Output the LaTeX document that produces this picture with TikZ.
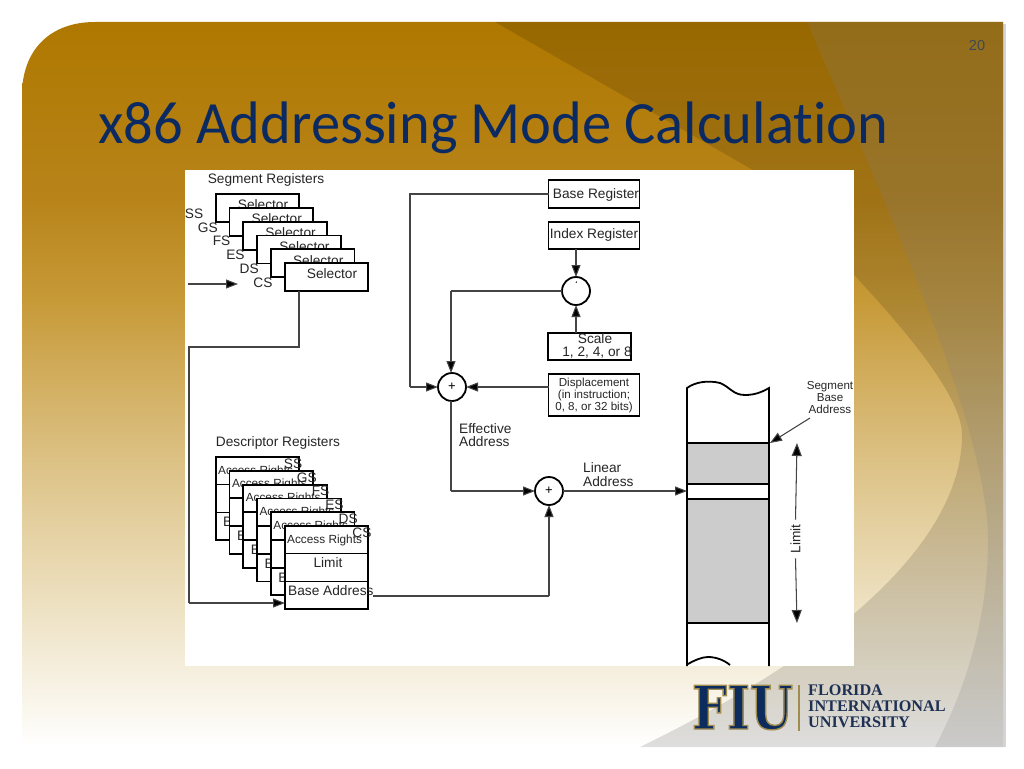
\documentclass[tikz,border=0pt]{standalone}
\usepackage{fontspec}
\setmainfont{Liberation Sans}
\newfontfamily\titlefont[Ligatures={NoCommon,NoRequired,NoContextual},FakeStretch=0.975]{Carlito}
\newfontfamily\logofont{Liberation Serif}
\newfontfamily\fiufont[FakeStretch=0.82]{DejaVu Serif}
\usetikzlibrary{arrows.meta}
\definecolor{bgA}{HTML}{AF7800}
\definecolor{bgB}{HTML}{B8841A}
\definecolor{bgC}{HTML}{C79A38}
\definecolor{bgD}{HTML}{DBBF80}
\definecolor{bgE}{HTML}{EDE0C0}
\definecolor{bgF}{HTML}{F9F5EA}
\definecolor{bgG}{HTML}{FFFFFF}
\definecolor{titleblue}{HTML}{0B2A62}
\definecolor{fiublue}{HTML}{0C2C5E}
\definecolor{fiugold}{HTML}{A08C50}
\definecolor{logotext}{HTML}{1E3154}
\definecolor{numcol}{HTML}{3F4A50}
\definecolor{wirecol}{HTML}{444444}
\pgfdeclareverticalshading{slidebg}{100bp}{
  color(0bp)=(bgG); color(25bp)=(bgG); color(28.2bp)=(bgF); color(35.1bp)=(bgE);
  color(45.5bp)=(bgD); color(55.8bp)=(bgC); color(62.7bp)=(bgB); color(75bp)=(bgA); color(100bp)=(bgA)}
\tikzset{
  x=1pt,y=-1pt,
  reg/.style={draw=black,fill=white,line width=1.8pt,minimum width=#1,inner sep=0pt,outer sep=0pt},
  lab/.style={font=\fontsize{13.7}{15}\selectfont,inner sep=0pt,text=black!85,yshift=-1.5pt},
  small/.style={font=\fontsize{11.6}{12}\selectfont,inner sep=0pt,align=center,text=black!85,yshift=-1pt},
  wire/.style={draw=wirecol,line width=1.05pt},
  arrow/.style={wire,-{Triangle[length=12pt,width=9pt,fill=black]}},
  sumnode/.style={circle,draw=black,fill=white,line width=1.8pt,minimum size=28pt,inner sep=0pt,outer sep=0pt,font=\fontsize{13}{15}\selectfont},
  col/.style={draw=black,line width=1.8pt},
}
\begin{document}
\begin{tikzpicture}
\useasboundingbox (0,0) rectangle (1024,768);
% slide background
\fill[black!17] (1003,24) rectangle (1006,747);
\begin{scope}
\clip (22,747) -- (22,95) .. controls (22,50) and (50,22) .. (95,22) -- (1003,22) -- (1003,747) -- cycle;
\shade[shading=slidebg] (22,22) rectangle (1003,747);
\fill[black,opacity=.13] (495,22) -- (753,170) .. controls (850,270) and (962,380) .. (962,435)
   .. controls (962,520) and (880,630) .. (640,747) -- (1003,747) -- (1003,22) -- cycle;
\fill[gray,opacity=.2] (807,22) .. controls (870,170) and (988,420) .. (988,540)
   .. controls (988,620) and (965,690) .. (935,747) -- (1003,747) -- (1003,22) -- cycle;
\end{scope}
\node[font=\fontsize{14.5}{16}\selectfont,text=numcol,inner sep=0pt] (pagenum) at (977,46) {20};
\node[font=\titlefont\fontsize{60}{70}\selectfont,text=titleblue,anchor=base west,inner sep=0pt] (title) at (98,143) {x86 Addressing Mode Calculation};
% white panel
\fill[white] (185,170) rectangle (854,666);
% segment registers
\node[lab] (segtitle) at (266,178) {Segment Registers};
\foreach \i/\n in {0/SS,1/GS,2/FS,3/ES,4/DS,5/CS}{
  \node[reg=83.5pt,minimum height=28pt] (seg\n) at ({257.5+13.8*\i},{208+13.8*\i}) {};
  \node[lab] (seltext\n) at ({263+13.8*\i},{203.5+13.8*\i}) {Selector};
  \node[lab] (seglabel\n) at ({194+13.8*\i},{212+13.8*\i}) {\n};
}
\coordinate (segin) at (188,284);
\coordinate (segend) at (238,284);
\draw[arrow] (segin) -- (segend);
% descriptor registers
\node[lab] (desctitle) at (278,441.5) {Descriptor Registers};
\foreach \i/\n in {0/SS,1/GS,2/FS,3/ES,4/DS,5/CS}{
  \node[reg=83.5pt,minimum height=83pt] (desc\n) at ({257.5+13.8*\i},{498.5+13.8*\i}) {};
  \draw[line width=1.8pt] ({216+13.8*\i},{484.5+13.8*\i}) -- ({299+13.8*\i},{484.5+13.8*\i});
  \draw[line width=1.8pt] ({216+13.8*\i},{512.5+13.8*\i}) -- ({299+13.8*\i},{512.5+13.8*\i});
  \node[lab,font=\fontsize{11.8}{14}\selectfont,anchor=west] (acc\n) at ({218+13.8*\i},{469.5+13.8*\i}) {Access Rights};
  \node[lab,anchor=west] (base\n) at ({\ifnum\i<5 223\else 219\fi+13.8*\i},{520.5+13.8*\i}) {Base Address};
  \node[lab] (dl\n) at ({293+13.8*\i},{462+13.8*\i}) {\n};
}
\node[lab] (limtext) at (328,561.5) {Limit};
\coordinate (c1) at (299,347);
\coordinate (c2) at (189,347);
\coordinate (c3) at (189,603);
\coordinate (c4) at (285,603);
\draw[wire] (segCS.south -| c1) -- (c1) -- (c2) -- (c3);
\draw[arrow] (c3) -- (c4);
% address registers
\node[reg=91pt,minimum height=28pt] (basereg) at (594,194) {};
\node[lab] (basetext) at (596,193) {Base Register};
\node[reg=91pt,minimum height=27pt] (indexreg) at (594,235.5) {};
\node[lab] (indextext) at (594,233.5) {Index Register};
\node[sumnode] (mul) at (576,291) {};
\draw[line width=.8pt] (576.5,281.5) -- (576,283);
\node[reg=83pt,minimum height=27pt] (scale) at (589.5,346.5) {};
\node[lab] (scaletext) at (595,337) {Scale};
\node[lab] (scalenums) at (597,351.5) {1, 2, 4, or 8};
\node[reg=91pt,minimum height=42pt] (disp) at (594,395) {};
\node[small] (disptext) at (594,394) {Displacement\\(in instruction;\\0, 8, or 32 bits)};
\node[sumnode] (add) at (452,387) {+};
\node[sumnode] (lin) at (549,491) {+};
\coordinate (b1) at (410,194);
\coordinate (b2) at (410,387);
\coordinate (m1) at (451,291);
\coordinate (e1) at (451,491);
\coordinate (f1) at (549,596);
\draw[arrow] (indexreg.south -| mul) -- (mul.north);
\draw[arrow] (scale.north -| mul) -- (mul.south);
\draw[wire] (basereg.west) -- (b1) -- (b2);
\draw[arrow] (b2) -- (add.west);
\draw[wire] (mul.west) -- (m1);
\draw[arrow] (m1) -- (add.north -| m1);
\draw[arrow] (disp.west |- add) -- (add.east);
\draw[wire] (add.south -| e1) -- (e1);
\draw[arrow] (e1) -- (lin.west);
\coordinate (f0) at (373,596);
\draw[wire] (f0) -- (f1);
\draw[arrow] (f1) -- (lin.south);
\node[lab,anchor=west] (eff1) at (459,427) {Effective};
\node[lab,anchor=west] (eff2) at (459,440.5) {Address};
\node[lab,anchor=west] (lin1) at (583,466) {Linear};
\node[lab,anchor=west] (lin2) at (583,480) {Address};
% memory column
\fill[black!20] (687,443) rectangle (769,623);
\fill[white] (687,484) rectangle (769,499);
\draw[col] (687,666) -- (687,388) .. controls (695,382) and (708,380) .. (720,383)
  .. controls (730,387) and (733,395) .. (745,395) .. controls (755,395) and (762,392) .. (769,388) -- (769,666);
\draw[col] (687,443) -- (769,443);
\draw[col] (687,484) -- (769,484);
\draw[col] (687,499) -- (769,499);
\draw[col] (687,623) -- (769,623);
\draw[col] (687,664.5) .. controls (695,660) and (702,657) .. (708,657) .. controls (716,657) and (724,660) .. (730,665);
\coordinate (memin) at (687,491);
\coordinate (membase) at (770,443);
\coordinate (labelfoot) at (810,418);
\draw[arrow] (lin.east) -- (memin);
\draw[arrow] (labelfoot) -- (membase);
\node[small] (segbase) at (830,397) {Segment\\Base\\Address};
\node[lab,rotate=90,outer sep=5pt,xshift=1.5pt,yshift=1.5pt] (limit) at (797,539) {Limit};
\coordinate (limtop) at (797,443);
\coordinate (limbot) at (797,623);
\draw[wire,-{Triangle[length=13pt,width=10pt,fill=black]}] (limit.east) -- (limtop);
\draw[wire,-{Triangle[length=13pt,width=10pt,fill=black]}] (limit.west) -- (limbot);
% logo
\node[font=\fiufont\bfseries\fontsize{60}{60}\selectfont,text=fiublue,inner sep=0pt,anchor=base] (fiu) at (742.5,729) {\special{pdf:code 0.63 0.55 0.31 RG 1.4 w 2 Tr}FIU\special{pdf:code 0 Tr}};
\node[fill=fiugold,minimum width=1.5pt,minimum height=46pt,inner sep=0pt] (logobar) at (799,707.5) {};
\foreach \nm/\t/\yy in {la/FLORIDA/695,lb/INTERNATIONAL/711,lc/UNIVERSITY/727}{
  \node[font=\logofont\bfseries\fontsize{16.2}{18}\selectfont,text=logotext,inner sep=0pt,anchor=base west] (\nm) at (808,\yy) {\t};
}
\end{tikzpicture}
\end{document}
